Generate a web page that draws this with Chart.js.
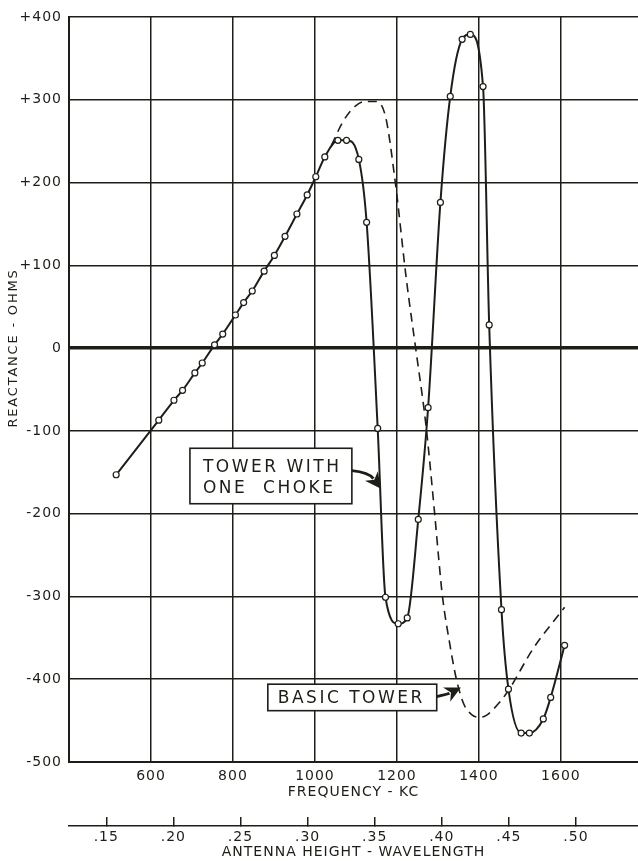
<!DOCTYPE html>
<html>
<head>
<meta charset="utf-8">
<script src="https://cdn.jsdelivr.net/npm/chart.js@4.4.1/dist/chart.umd.min.js"></script>
<style>
  body { margin: 0; background: #fff; }
  #box { width: 638px; height: 861px; }
</style>
</head>
<body>
<div id="box"><canvas id="reactanceChart"></canvas></div>
<script>
// tower with one choke (measured points)
var chokeFreq = [515, 619, 656, 677, 707, 725, 755, 775, 806, 826, 847, 876, 901, 927, 956, 981, 1002, 1024, 1056, 1077, 1107, 1126, 1153, 1172, 1203, 1225, 1252, 1276, 1306, 1330, 1359, 1379, 1410, 1425, 1455, 1472, 1503, 1523, 1557, 1575, 1609];
var chokeReactance = [-153, -87, -63, -51, -30, -18, 4, 17, 40, 55, 69, 93, 112, 135, 162, 185, 207, 231, 251, 251, 228, 152, -97, -301, -333, -326, -207, -72, 176, 304, 373, 379, 316, 28, -316, -412, -465, -465, -448, -422, -359];

// basic tower (dashed curve)
var basicFreq = [1040, 1070, 1100, 1123, 1147, 1172, 1196, 1223, 1247, 1270, 1292, 1302, 1311, 1328, 1345, 1363, 1383, 1400, 1417, 1450, 1474, 1531, 1609];
var basicReactance = [245, 275, 293, 298, 298, 280, 200, 83, -5, -90, -200, -255, -300, -355, -400, -430, -443, -446, -444, -428, -412, -364, -313];

var freqTicks = [400, 600, 800, 1000, 1200, 1400, 1600];
var heightTicks = [0.15, 0.20, 0.25, 0.30, 0.35, 0.40, 0.45, 0.50];
var kcToWavelength = 0.0003055;
var freqMin = 400, freqMax = 1788;

var ink = '#1e1e18';
var font = 'DejaVu Sans';

function toPoints(xs, ys) {
    return xs.map(function (x, i) { return { x: x, y: ys[i] }; });
}

var labelsPlugin = {
    id: 'labels',
    beforeDraw: function (chart) {
        chart.ctx.letterSpacing = '1px';
    },
    afterDatasetsDraw: function (chart) {
        var ctx = chart.ctx;
        var sx = chart.scales.x, sy = chart.scales.y;
        function px(f) { return sx.getPixelForValue(f); }
        function py(r) { return sy.getPixelForValue(r); }

        ctx.save();
        ctx.fillStyle = ink;
        ctx.strokeStyle = ink;

        // y axis title
        ctx.save();
        ctx.translate(14, 348);
        ctx.rotate(-Math.PI / 2);
        ctx.font = '13px ' + font;
        ctx.letterSpacing = '1.8px';
        ctx.textAlign = 'center';
        ctx.textBaseline = 'middle';
        ctx.fillText('REACTANCE - OHMS', 0, 0);
        ctx.restore();

        function box(f1, r1, f2, r2) {
            var x1 = px(f1), y1 = py(r1), x2 = px(f2), y2 = py(r2);
            ctx.fillStyle = '#fff';
            ctx.fillRect(x1, y1, x2 - x1, y2 - y1);
            ctx.lineWidth = 1.6;
            ctx.strokeRect(x1, y1, x2 - x1, y2 - y1);
            ctx.fillStyle = ink;
            return { x: x1, y: y1, w: x2 - x1, h: y2 - y1 };
        }

        function arrow(f0, r0, fc, rc, f1, r1, len, half) {
            var x0 = px(f0), y0 = py(r0), xc = px(fc), yc = py(rc), x1 = px(f1), y1 = py(r1);
            var a = Math.atan2(y1 - yc, x1 - xc);
            var bx = x1 - Math.cos(a) * len * 0.8, by = y1 - Math.sin(a) * len * 0.8;
            ctx.lineWidth = 3;
            ctx.beginPath();
            ctx.moveTo(x0, y0);
            ctx.quadraticCurveTo(xc, yc, bx, by);
            ctx.stroke();
            ctx.beginPath();
            ctx.moveTo(x1, y1);
            ctx.lineTo(x1 - Math.cos(a) * len + Math.sin(a) * half, y1 - Math.sin(a) * len - Math.cos(a) * half);
            ctx.lineTo(x1 - Math.cos(a) * len * 0.7, y1 - Math.sin(a) * len * 0.7);
            ctx.lineTo(x1 - Math.cos(a) * len - Math.sin(a) * half, y1 - Math.sin(a) * len + Math.cos(a) * half);
            ctx.closePath();
            ctx.fill();
        }

        ctx.font = '17px ' + font;
        ctx.letterSpacing = '2.5px';
        ctx.textAlign = 'left';
        ctx.textBaseline = 'middle';

        var b1 = box(695, -121, 1090, -188);
        ctx.fillText('TOWER WITH', b1.x + 13, b1.y + 19);
        ctx.fillText('ONE  CHOKE', b1.x + 13, b1.y + 40);
        arrow(1090, -148, 1131, -150, 1161, -170, 16, 8);

        var b2 = box(885, -406, 1297, -438);
        ctx.fillText('BASIC TOWER', b2.x + 10, b2.y + b2.h / 2 + 1);
        arrow(1297, -421, 1324, -418, 1356, -410, 16, 8);

        ctx.restore();
    }
};

var config = {
    type: 'line',
    data: {
        datasets: [
            {
                label: 'Tower with one choke',
                data: toPoints(chokeFreq, chokeReactance),
                borderColor: ink,
                borderWidth: 2,
                cubicInterpolationMode: 'monotone',
                pointRadius: 3,
                pointBackgroundColor: '#fff',
                pointBorderColor: ink,
                pointBorderWidth: 1.2
            },
            {
                label: 'Basic tower',
                data: toPoints(basicFreq, basicReactance),
                borderColor: ink,
                borderWidth: 1.6,
                borderDash: [9, 6],
                cubicInterpolationMode: 'monotone',
                pointRadius: 0
            }
        ]
    },
    options: {
        responsive: true,
        maintainAspectRatio: false,
        animation: false,
        layout: { autoPadding: false, padding: { top: 17, left: 0, right: 0, bottom: 0 } },
        plugins: {
            legend: { display: false },
            tooltip: { enabled: false }
        },
        scales: {
            x: {
                type: 'linear',
                position: 'bottom',
                min: freqMin,
                max: freqMax,
                afterBuildTicks: function (axis) {
                    axis.ticks = freqTicks.map(function (v) { return { value: v }; });
                },
                afterFit: function (axis) { axis.height = 64; },
                grid: { color: ink, lineWidth: 1.5, drawTicks: false },
                border: { color: ink, width: 2 },
                ticks: {
                    color: ink,
                    font: { family: font, size: 14 },
                    padding: 6,
                    maxRotation: 0,
                    callback: function (v) { return v === 400 ? '' : String(v); }
                },
                title: {
                    display: true,
                    text: 'FREQUENCY - KC',
                    color: ink,
                    font: { family: font, size: 14 },
                    padding: { top: 0, bottom: 25 }
                }
            },
            wl: {
                type: 'linear',
                position: 'bottom',
                min: freqMin * kcToWavelength,
                max: freqMax * kcToWavelength,
                afterBuildTicks: function (axis) {
                    axis.ticks = heightTicks.map(function (v) { return { value: v }; });
                },
                afterFit: function (axis) { axis.height = 35; },
                grid: { drawOnChartArea: false, color: ink, lineWidth: 1.5, tickLength: -9 },
                border: { color: ink, width: 1.5 },
                ticks: {
                    color: ink,
                    font: { family: font, size: 14 },
                    padding: 12,
                    maxRotation: 0,
                    callback: function (v) { return v.toFixed(2).replace(/^0/, ''); }
                },
                title: {
                    display: true,
                    text: 'ANTENNA HEIGHT - WAVELENGTH',
                    color: ink,
                    font: { family: font, size: 14 },
                    padding: { top: 0, bottom: 0 }
                }
            },
            y: {
                type: 'linear',
                min: -500,
                max: 400,
                afterFit: function (axis) { axis.width = 69; },
                grid: {
                    color: ink,
                    drawTicks: false,
                    lineWidth: function (c) { return c.tick && c.tick.value === 0 ? 3.5 : 1.5; }
                },
                border: { color: ink, width: 2 },
                ticks: {
                    stepSize: 100,
                    color: ink,
                    font: { family: font, size: 14 },
                    padding: 7,
                    callback: function (v) { return v > 0 ? '+' + v : String(v); }
                }
            }
        }
    },
    plugins: [labelsPlugin]
};

var reactanceChart = new Chart(document.querySelector('#reactanceChart').getContext('2d'), config);
</script>
</body>
</html>
